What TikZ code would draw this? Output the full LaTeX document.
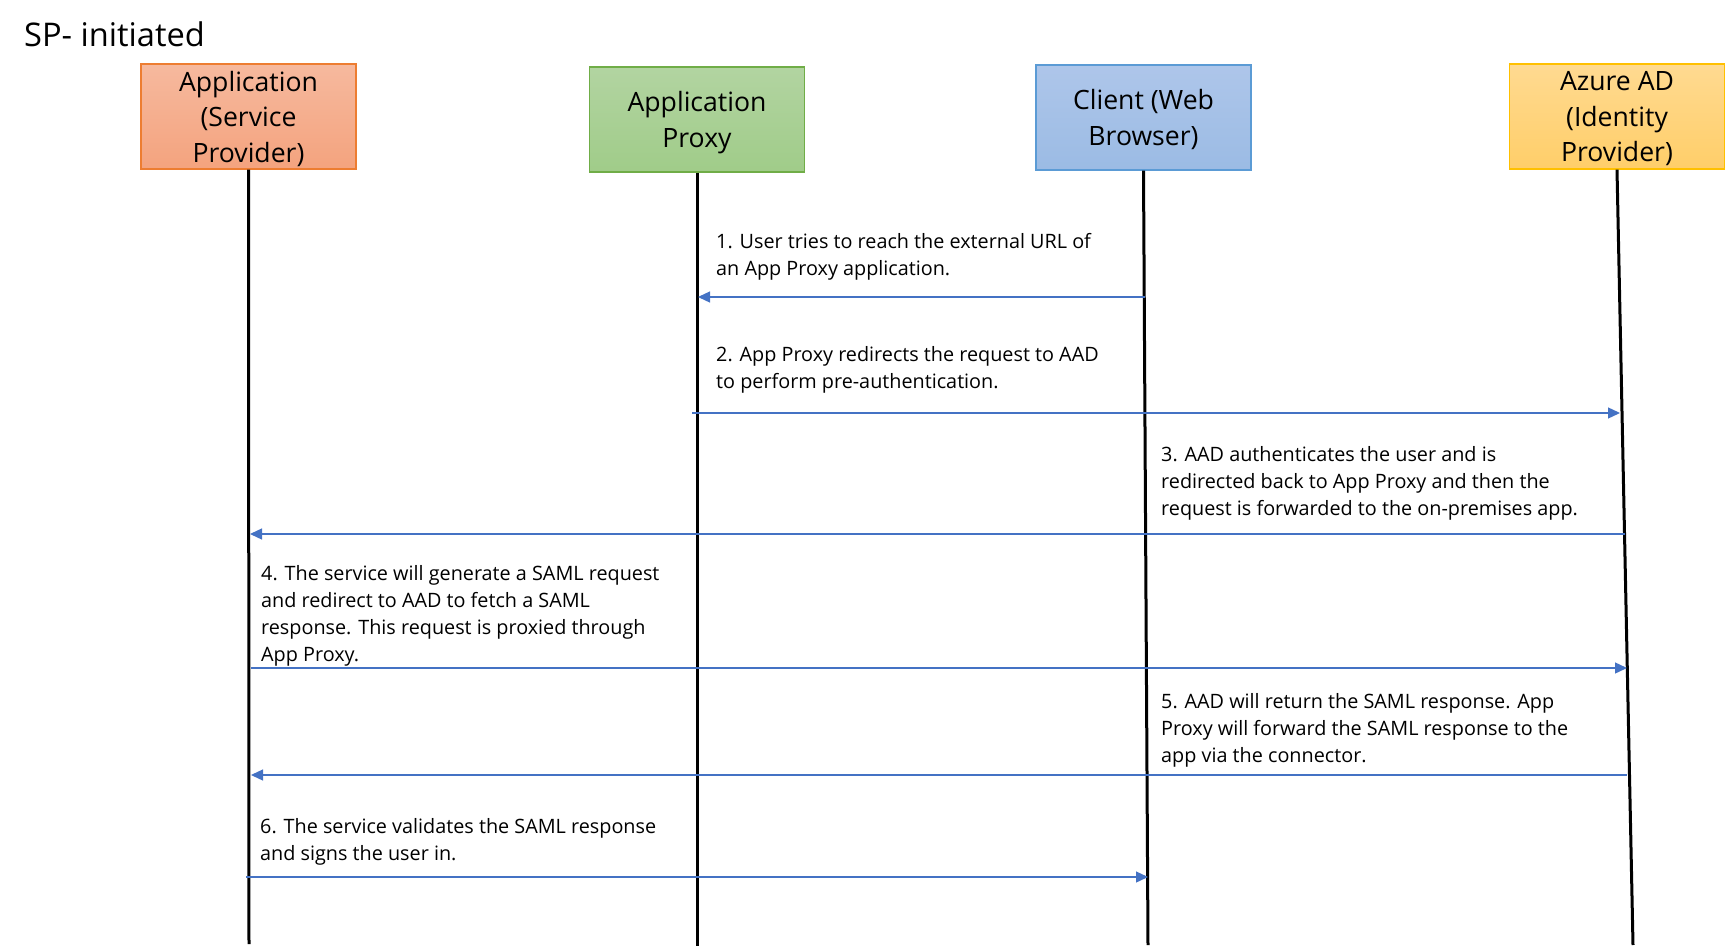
\documentclass[tikz,border=0pt]{standalone}
\usepackage{fontspec}
\setmainfont{Open Sans}
\usetikzlibrary{arrows.meta}
\definecolor{msgblue}{HTML}{4472C4}
\definecolor{spdraw}{HTML}{ED7D31}
\definecolor{sptop}{HTML}{F6B99E}
\definecolor{spbot}{HTML}{F4A37E}
\definecolor{pxdraw}{HTML}{70AD47}
\definecolor{pxtop}{HTML}{B2D4A1}
\definecolor{pxbot}{HTML}{A0CC89}
\definecolor{cldraw}{HTML}{5B9BD5}
\definecolor{cltop}{HTML}{AEC6EA}
\definecolor{clbot}{HTML}{9BBBE4}
\definecolor{iddraw}{HTML}{FFC000}
\definecolor{idtop}{HTML}{FFDA91}
\definecolor{idbot}{HTML}{FFCE69}

\begin{document}
\begin{tikzpicture}[x=1pt,y=-1pt,
  actor/.style={line width=1.2pt, minimum width=215pt, minimum height=105pt,
    align=center, inner sep=0pt, text depth=0pt, font=\fontsize{26.6}{35.5}\selectfont},
  lifeline/.style={line width=3pt, black},
  msg/.style={draw=msgblue, line width=1.3pt, -{Triangle[length=12pt,width=11pt]}},
  msgtext/.style={anchor=base west, align=left, inner sep=0pt,
    font=\fontsize{19.8}{27}\selectfont}]
\useasboundingbox (0,0) rectangle (1725,950);

\node[anchor=base west, inner sep=0pt, font=\fontsize{32.6}{39}\selectfont] (title) at (24,47) {SP- initiated};

\node[actor, draw=spdraw, top color=sptop, bottom color=spbot] (app) at (248.5,116.5) {Application\\(Service\\Provider)};
\node[actor, draw=pxdraw, top color=pxtop, bottom color=pxbot] (proxy) at (697,119.5) {Application\\Proxy};
\node[actor, draw=cldraw, top color=cltop, bottom color=clbot] (client) at (1143.5,117.5) {Client (Web\\Browser)};
\node[actor, draw=iddraw, top color=idtop, bottom color=idbot] (aad) at (1617,116.5) {Azure AD\\(Identity\\Provider)};

\coordinate (appEnd) at (249,944);
\coordinate (proxyEnd) at (697,946);
\coordinate (clientEnd) at (1148,945);
\coordinate (aadEnd) at (1633,945);
\draw[lifeline] (app.south) -- (appEnd);
\draw[lifeline] (proxy.south) -- (proxyEnd);
\draw[lifeline] (client.south) -- (clientEnd);
\draw[lifeline] (aad.south) -- (aadEnd);

\coordinate (m1a) at (1145,297);
\coordinate (m1b) at (698,297);
\coordinate (m2a) at (692,413);
\coordinate (m2b) at (1620,413);
\coordinate (m3a) at (1625,534);
\coordinate (m3b) at (250,534);
\coordinate (m4a) at (251,668);
\coordinate (m4b) at (1627,668);
\coordinate (m5a) at (1627,775);
\coordinate (m5b) at (251,775);
\coordinate (m6a) at (246,877);
\coordinate (m6b) at (1148,877);
\draw[msg] (m1a) -- (m1b);
\draw[msg] (m2a) -- (m2b);
\draw[msg] (m3a) -- (m3b);
\draw[msg] (m4a) -- (m4b);
\draw[msg] (m5a) -- (m5b);
\draw[msg] (m6a) -- (m6b);

\node[msgtext] (t1) at (716,275) {1. User tries to reach the external URL of\\an App Proxy application.};
\node[msgtext] (t2) at (716,388.5) {2. App Proxy redirects the request to AAD\\to perform pre-authentication.};
\node[msgtext] (t3) at (1161,515.5) {3. AAD authenticates the user and is\\redirected back to App Proxy and then the\\request is forwarded to the on-premises app.};
\node[msgtext] (t4) at (261,661) {4. The service will generate a SAML request\\and redirect to AAD to fetch a SAML\\response. This request is proxied through\\App Proxy.};
\node[msgtext] (t5) at (1161,762.5) {5. AAD will return the SAML response. App\\Proxy will forward the SAML response to the\\app via the connector.};
\node[msgtext] (t6) at (260,860) {6. The service validates the SAML response\\and signs the user in.};
\end{tikzpicture}
\end{document}
